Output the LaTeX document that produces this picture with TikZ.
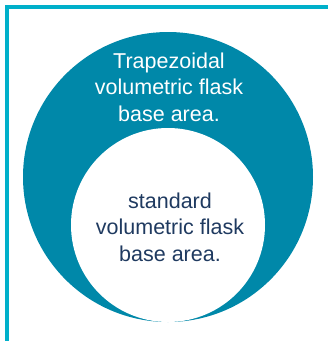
\documentclass[tikz,border=0pt]{standalone}
\usepackage{fontspec}
\setmainfont{Liberation Sans}
\definecolor{teal1}{HTML}{0088A9}
\definecolor{cyanline}{HTML}{00B0CA}
\definecolor{navy}{HTML}{1F3A60}
\tikzset{
  frameline/.style={draw=cyanline, line width=3.5pt, line join=miter},
  outerc/.style={circle, fill=teal1, draw=none, minimum size=290pt, inner sep=0pt},
  innerc/.style={circle, fill=white, draw=none, minimum size=194pt, inner sep=0pt},
  lbl/.style={align=center, font=\fontsize{21.5}{26.3}\selectfont, inner sep=0pt}
}
\begin{document}
\begin{tikzpicture}[x=1pt,y=-1pt]
\useasboundingbox (0,0) rectangle (328,341);
\fill[white] (0,0) rectangle (328,341);
\coordinate (tr) at (328,6.75);
\coordinate (cn) at (6.75,6.75);
\coordinate (bl) at (6.75,341);
\draw[frameline] (tr) -- (cn) -- (bl);
\node[outerc] (outer) at (168,177) {};
\node[innerc] (inner) at (168,225) {};
\node[lbl, text=white, anchor=base] (t1) at (169,121) {Trapezoidal\\volumetric flask\\base area.};
\node[lbl, text=navy, anchor=base] (t2) at (170,261) {standard\\volumetric flask\\base area.};
\end{tikzpicture}
\end{document}
